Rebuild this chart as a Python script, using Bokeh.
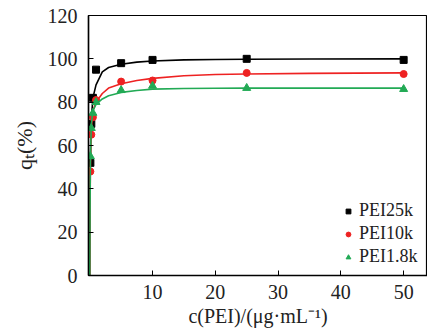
from bokeh.plotting import figure
from bokeh.models import Legend, LegendItem, FixedTicker
from bokeh.embed import file_html
from bokeh.resources import INLINE

# measured points
x_pts = [0.1, 0.25, 0.5, 1, 5, 10, 25, 50]
q_25k = [52, 70, 82, 95, 98, 99.5, 100, 99.5]
q_10k = [48, 65, 73, 81, 89.5, 90, 93.5, 93]
q_18k = [55, 68, 75, 80, 85.5, 87.5, 86.5, 86]

# fitted curves
x_fit = [0, 0.05, 0.1, 0.25, 0.5, 1, 2, 3, 5, 7.5, 10, 15, 20, 25, 35, 50]
f_25k = [0, 35, 55, 72, 82, 88, 94, 96, 97.5, 98.5, 99, 99.5, 99.7, 99.8, 99.9, 100]
f_10k = [0, 30, 50, 68, 76, 80, 84, 86.5, 88.5, 90, 91, 92.2, 92.8, 93, 93.3, 93.5]
f_18k = [0, 32, 52, 70, 76, 79, 81.5, 83, 84.5, 85.4, 86, 86.3, 86.4, 86.5, 86.5, 86.5]

names = ["PEI25k", "PEI10k", "PEI1.8k"]
x_ticks = [10, 20, 30, 40, 50]
y_ticks = [0, 20, 40, 60, 80, 100, 120]

FONT = "Liberation Serif"
TXT = "#222222"

p = figure(width=427, height=335, output_backend="svg", toolbar_location=None,
           x_range=(-0.2, 53.8), y_range=(0, 120),
           min_border_left=88, min_border_right=0, min_border_top=15, min_border_bottom=60)
p.grid.visible = False
p.outline_line_color = "black"
p.outline_line_width = 1.2

p.xaxis.ticker = FixedTicker(ticks=x_ticks)
p.yaxis.ticker = FixedTicker(ticks=y_ticks)
p.axis.axis_line_width = 1.5
p.axis.axis_line_color = "black"
p.axis.major_tick_in = 5
p.axis.major_tick_out = 0
p.axis.minor_tick_line_color = None
p.axis.major_label_text_font = FONT
p.axis.major_label_text_font_size = "20px"
p.axis.major_label_text_color = TXT
p.axis.axis_label_text_font = FONT
p.axis.axis_label_text_font_style = "normal"
p.axis.axis_label_text_color = TXT
p.xaxis.major_label_standoff = 9
p.yaxis.major_label_standoff = 11

p.xaxis.axis_label = "c(PEI)/(μg·mL⁻¹)"
p.xaxis.axis_label_text_font_size = "20px"
p.xaxis.axis_label_standoff = 3
p.yaxis.axis_label = "qₜ(%)"
p.yaxis.axis_label_text_font_size = "22px"
p.yaxis.axis_label_standoff = 8

colors = ["black", "#ee2222", "#22aa55"]
fits = [f_25k, f_10k, f_18k]
pts = [q_25k, q_10k, q_18k]
markers = ["square", "circle", "triangle"]
sizes = [7, 7, 8]

items = []
for name, c, f, q, m, s in zip(names, colors, fits, pts, markers, sizes):
    p.line(x_fit, f, line_color=c, line_width=1.6)
    r = p.scatter(x_pts, q, marker=m, size=s, fill_color=c, line_color=c)
    items.append(LegendItem(label=name, renderers=[r]))

legend = Legend(items=items, location=(254, 8), label_text_font=FONT,
                label_text_font_size="18px", label_text_color=TXT,
                label_height=20, glyph_width=12, glyph_height=14, spacing=2,
                padding=0, margin=0, label_standoff=5,
                background_fill_alpha=0, border_line_color=None)
p.add_layout(legend)

open("out.html", "w").write(file_html(p, INLINE))
